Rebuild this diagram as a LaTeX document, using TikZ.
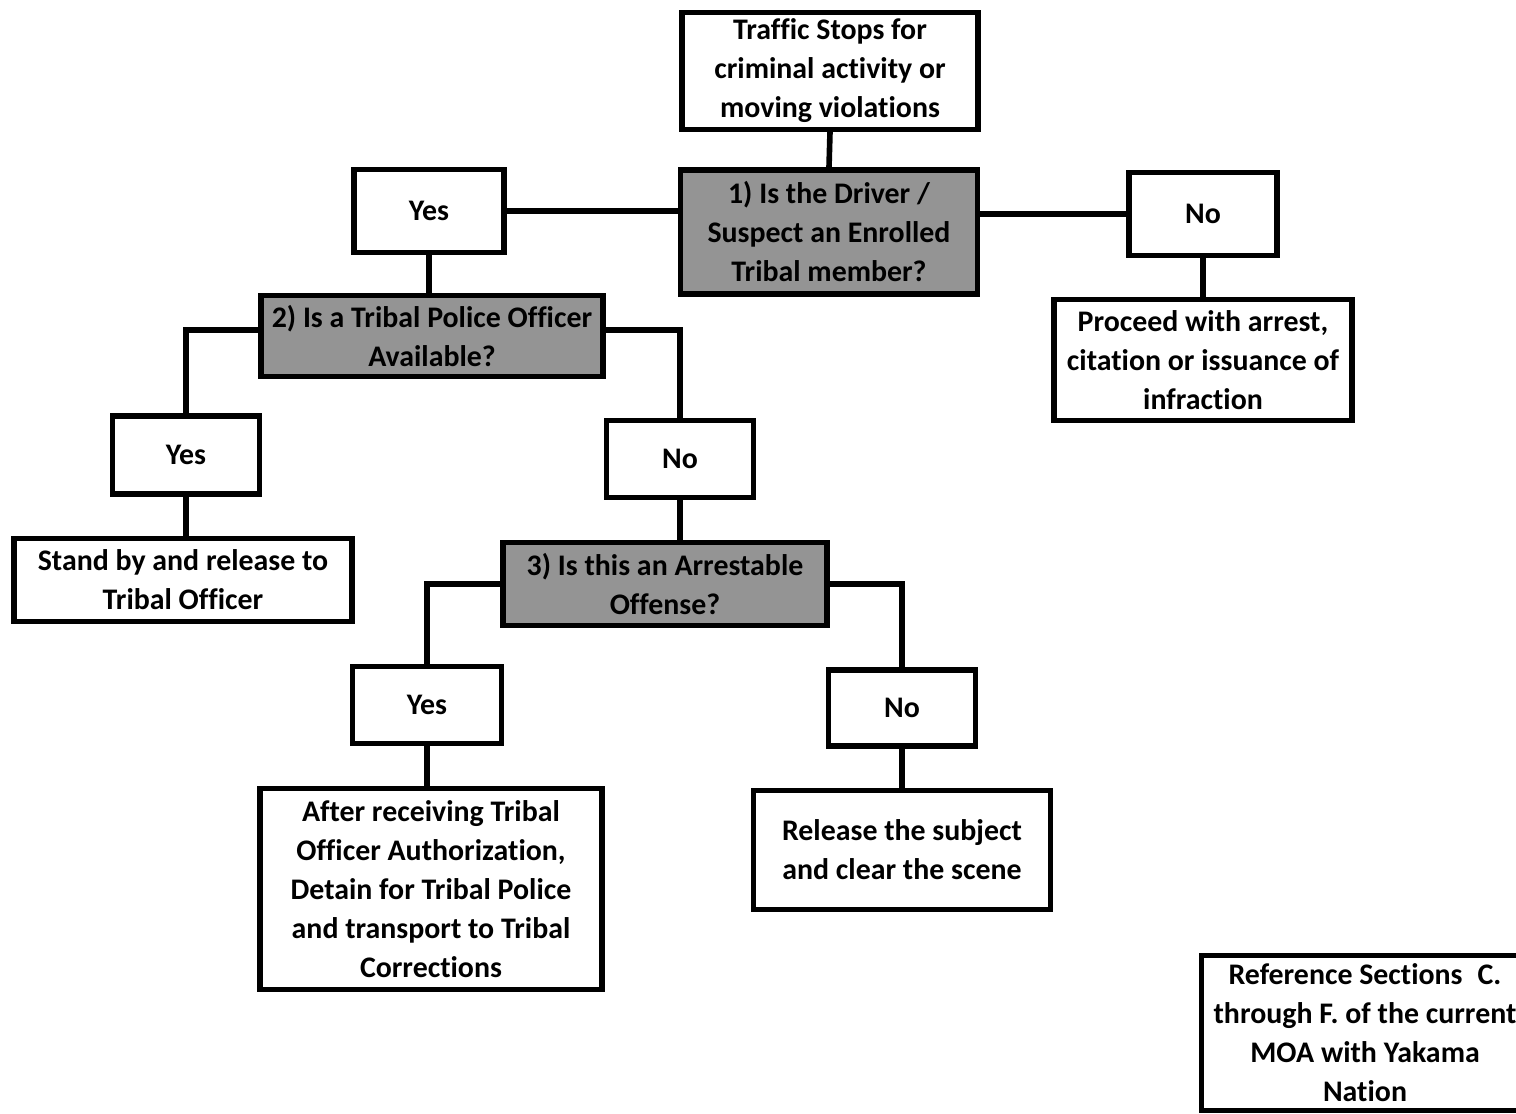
\documentclass[tikz,border=0pt]{standalone}
\usepackage{fontspec}
\setmainfont{Carlito}[RawFeature={-liga;-clig;-calt;-dlig}]
\begin{document}
\begin{tikzpicture}[x=0.02cm,y=-0.02cm,
  box/.style={draw=black,line width=2.9pt,fill=white,align=center,
    font=\fontsize{17}{22.2}\selectfont\bfseries,inner sep=2pt},
  question/.style={box,fill=black!42},
  link/.style={draw=black,line width=3.2pt}]
\useasboundingbox (0,0) rectangle (1516,1114);
\clip (0,0) rectangle (1516,1114);
\fill[white] (0,0) rectangle (1516,1114);

% boxes
\node[box,minimum width=5.92cm,minimum height=2.34cm] (start) at (830,71)
  {Traffic Stops for\\criminal activity or\\moving violations};
\node[question,minimum width=5.94cm,minimum height=2.48cm] (q1) at (829,232)
  {1) Is the Driver /\\Suspect an Enrolled\\Tribal member?};
\node[box,minimum width=3.0cm,minimum height=1.66cm] (yes1) at (429,211) {Yes};
\node[box,minimum width=2.96cm,minimum height=1.66cm] (no1) at (1203,214) {No};
\node[box,minimum width=5.96cm,minimum height=2.42cm] (proceed) at (1203,360)
  {Proceed with arrest,\\citation or issuance of\\infraction};
\node[question,minimum width=6.84cm,minimum height=1.62cm] (q2) at (432,336)
  {2) Is a Tribal Police Officer\\Available?};
\node[box,minimum width=2.94cm,minimum height=1.56cm] (yes2) at (186,455) {Yes};
\node[box,minimum width=6.76cm,minimum height=1.66cm] (standby) at (183,580)
  {Stand by and release to\\Tribal Officer};
\node[box,minimum width=2.94cm,minimum height=1.54cm] (no2) at (680,459) {No};
\node[question,minimum width=6.48cm,minimum height=1.66cm] (q3) at (665,584)
  {3) Is this an Arrestable\\Offense?};
\node[box,minimum width=2.98cm,minimum height=1.54cm] (yes3) at (427,705) {Yes};
\node[box,minimum width=6.84cm,minimum height=4.02cm] (detain) at (431,889)
  {After receiving Tribal\\Officer Authorization,\\Detain for Tribal Police\\and transport to Tribal\\Corrections};
\node[box,minimum width=2.94cm,minimum height=1.52cm] (no3) at (902,708) {No};
\node[box,minimum width=5.94cm,minimum height=2.38cm] (release) at (902,850)
  {Release the subject\\and clear the scene};
\node[box,minimum width=6.54cm,minimum height=3.1cm] (moa) at (1365,1033)
  {Reference Sections\enskip C.\\through F. of the current\\MOA with Yakama\\Nation};

% connectors
\draw[link] (start.south) -- (q1.north);
\draw[link] (yes1.east) -- (yes1.east -| q1.west);
\draw[link] (no1.west) -- (no1.west -| q1.east);
\draw[link] (yes1.south) -- (yes1.south |- q2.north);
\draw[link] (no1.south) -- (proceed.north);
\draw[link] ([yshift=0.12cm]q2.west) -| (yes2.north);
\draw[link] ([yshift=0.12cm]q2.east) -| (no2.north);
\draw[link] (yes2.south) -- (yes2.south |- standby.north);
\draw[link] (no2.south) -- (no2.south |- q3.north);
\draw[link] (q3.west) -| (yes3.north);
\draw[link] (q3.east) -| (no3.north);
\draw[link] (yes3.south) -- (yes3.south |- detain.north);
\draw[link] (no3.south) -- (release.north);
\end{tikzpicture}
\end{document}
